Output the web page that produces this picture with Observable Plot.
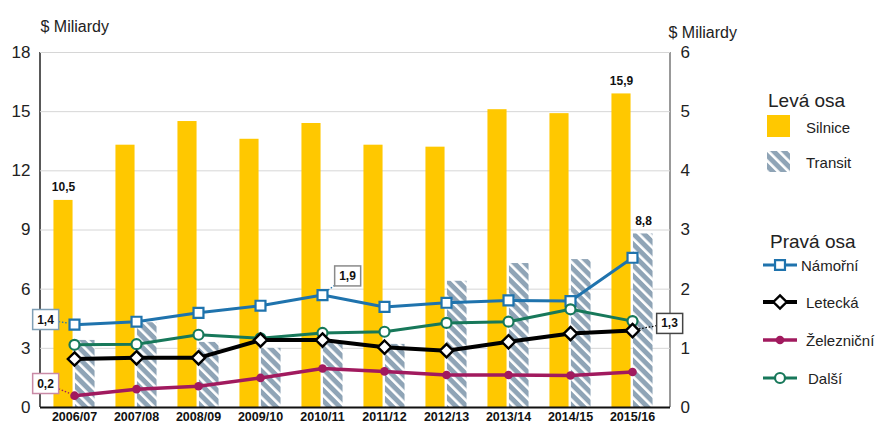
<!DOCTYPE html>
<html><head><meta charset="utf-8">
<script src="https://cdn.jsdelivr.net/npm/d3@7"></script>
<script src="https://cdn.jsdelivr.net/npm/@observablehq/plot@0.6"></script>
<style>
body{margin:0;background:#fff;font-family:"Liberation Sans",Arial,sans-serif;}
#wrap{position:relative;width:880px;height:424px;overflow:hidden;background:#fff;}
#legend{position:absolute;left:0;top:0;}
</style></head><body><div id="wrap"></div>
<script>
// ---------- data ----------
const years = ["2006/07","2007/08","2008/09","2009/10","2010/11","2011/12","2012/13","2013/14","2014/15","2015/16"];
// left axis ($ billions)
const silnice = [10.5, 13.3, 14.5, 13.6, 14.4, 13.3, 13.2, 15.1, 14.9, 15.9];
const transit = [3.4, 4.3, 3.3, 3.0, 3.25, 3.2, 6.4, 7.3, 7.5, 8.8];
// right axis ($ billions)
const namorni = [1.4, 1.45, 1.6, 1.72, 1.9, 1.7, 1.77, 1.81, 1.8, 2.53];
const letecka = [0.82, 0.84, 0.84, 1.14, 1.14, 1.02, 0.96, 1.11, 1.25, 1.3];
const zeleznicni = [0.2, 0.31, 0.36, 0.5, 0.66, 0.61, 0.55, 0.55, 0.54, 0.6];
const dalsi = [1.06, 1.07, 1.23, 1.17, 1.26, 1.28, 1.43, 1.45, 1.66, 1.46];
const leftTicks = [0, 3, 6, 9, 12, 15, 18];
const rightTicks = [0, 1, 2, 3, 4, 5, 6];
const axisTitle = "$ Miliardy";
const legendLeftTitle = "Levá osa";
const legendRightTitle = "Pravá osa";
const barNames = ["Silnice", "Transit"];
const lineNames = ["Námořní", "Letecká", "Železniční", "Další"];
// callouts: [series, year]
const callouts = [["Námořní","2006/07"],["Železniční","2006/07"],["Námořní","2010/11"],["Letecká","2015/16"]];
const barLabelKeys = [["Silnice","2006/07"],["Silnice","2015/16"],["Transit","2015/16"]];

// ---------- derived ----------
const RATIO = leftTicks[leftTicks.length-1] / rightTicks[rightTicks.length-1];
const lineValues = {"Námořní": namorni, "Letecká": letecka, "Železniční": zeleznicni, "Další": dalsi};
const barValues = {"Silnice": silnice, "Transit": transit};
const barRows = years.map((year, i) => ({year, silnice: silnice[i], transit: transit[i]}));
const fmt = v => v.toFixed(1).replace(".", ",");

// ---------- styles ----------
const YELLOW = "#ffc800";
const HATCH_BG = "#8fa4b6";
const lineStyle = {
  "Námořní":   {color: "#1f73ad", symbol: "square",   r: 5.6, fill: "white", sw: 3,   dotSw: 2.2},
  "Železniční":{color: "#a11a5e", symbol: "circle",   r: 4.3, fill: "#a11a5e", sw: 3.5, dotSw: 0},
  "Další":     {color: "#17785a", symbol: "circle",   r: 5,   fill: "white", sw: 3,   dotSw: 2.2},
  "Letecká":   {color: "#000000", symbol: "diamond2", r: 6,   fill: "white", sw: 4,   dotSw: 2.4}
};
const drawOrder = ["Námořní", "Železniční", "Další", "Letecká"];
const calloutStyle = {
  "Námořní|2006/07":   {dx: -29, dy: -5,  border: "#7f9fb5"},
  "Železniční|2006/07":{dx: -29, dy: -12, border: "#c98aa6"},
  "Námořní|2010/11":   {dx: 25,  dy: -19, border: "#8a8a8a"},
  "Letecká|2015/16":   {dx: 37,  dy: -7,  border: "#444444"}
};
const barLabelStyle = {"Silnice": {dx: -11, dy: -9}, "Transit": {dx: 11, dy: -9}};

const W = 880, H = 424, mL = 40, mR = 210, mT = 52, mB = 17;
const xRange = [38.5, 667.5];
const bw = (xRange[1] - xRange[0]) / years.length;

const marks = [
  Plot.gridY(leftTicks, {stroke: "#d6d6d6", strokeOpacity: 1, strokeWidth: 1}),
  Plot.barY(barRows, {x: "year", y: "silnice", fill: YELLOW, insetLeft: bw/2 - 21, insetRight: bw/2 + 1}),
  Plot.barY(barRows, {x: "year", y: "transit", fill: "url(#hatch)", insetLeft: bw/2 + 0.5, insetRight: bw/2 - 21}),
  Plot.ruleY([0], {stroke: "#111", strokeWidth: 2})
];
for (const name of drawOrder) {
  const s = lineStyle[name];
  const rows = years.map((year, i) => ({year, v: lineValues[name][i] * RATIO}));
  marks.push(Plot.line(rows, {x: "year", y: "v", stroke: s.color, strokeWidth: s.sw, curve: "linear"}));
  marks.push(Plot.dot(rows, {x: "year", y: "v", symbol: s.symbol, r: s.r, fill: s.fill,
    stroke: s.color, strokeWidth: s.dotSw}));
}
for (const [name, year] of barLabelKeys) {
  const i = years.indexOf(year);
  const st = barLabelStyle[name];
  marks.push(Plot.text([{year, v: barValues[name][i]}], {x: "year", y: "v", text: d => fmt(d.v),
    dx: st.dx, dy: st.dy, lineAnchor: "bottom", fontWeight: "bold", fontSize: 12, fill: "#111"}));
}
for (const [name, year] of callouts) {
  const i = years.indexOf(year);
  const st = calloutStyle[name + "|" + year];
  marks.push(Plot.text([{year, v: lineValues[name][i] * RATIO, raw: lineValues[name][i]}], {
    x: "year", y: "v", text: d => fmt(d.raw), dx: st.dx, dy: st.dy,
    fontWeight: "bold", fontSize: 12, fill: "#111", ariaLabel: () => "callout"}));
}
marks.push(
  Plot.axisX({tickSize: 0, tickPadding: 4.5, fontWeight: "bold", fontSize: 12.5, fill: "#111", label: null}),
  Plot.axisY(leftTicks, {anchor: "left", tickSize: 0, tickPadding: 10, fontSize: 17, fill: "#222", label: null}),
  Plot.axisY(leftTicks, {anchor: "right", tickSize: 0, tickPadding: 10, fontSize: 17, fill: "#222", label: null,
    tickFormat: d => String(rightTicks[leftTicks.indexOf(d)])}),
  Plot.text([axisTitle], {frameAnchor: "top-left", textAnchor: "start", lineAnchor: "middle", dy: -26, fontSize: 16, fill: "#222"}),
  Plot.text([axisTitle], {frameAnchor: "top-right", textAnchor: "start", lineAnchor: "middle", dx: -2, dy: -20, fontSize: 16, fill: "#222"})
);

const plot = Plot.plot({
  width: W, height: H, marginLeft: mL, marginRight: mR, marginTop: mT, marginBottom: mB,
  style: {fontFamily: "'Liberation Sans', Arial, sans-serif", background: "white", overflow: "visible"},
  x: {type: "band", domain: years, range: xRange, padding: 0},
  y: {domain: [0, 18], range: [H - mB, mT]},
  marks
});
const wrap = document.getElementById("wrap");
wrap.appendChild(plot);

const svgNS = "http://www.w3.org/2000/svg";
function hatchDefs(svgSel, id) {
  const p = svgSel.append("defs").append("pattern").attr("id", id)
    .attr("patternUnits", "userSpaceOnUse").attr("width", 7.5).attr("height", 7.5)
    .attr("patternTransform", "rotate(-45)");
  p.append("rect").attr("width", 7.5).attr("height", 7.5).attr("fill", HATCH_BG);
  p.append("rect").attr("width", 2.6).attr("height", 7.5).attr("fill", "white");
}
const svg = d3.select(plot);
hatchDefs(svg, "hatch");

const xs = plot.scale("x"), ys = plot.scale("y");
// axis lines (inserted at the back so callout boxes cover them)
const yTop = ys.apply(leftTicks[leftTicks.length-1]), yBot = ys.apply(0);
svg.insert("line", ":first-child").attr("x1", W - mR).attr("x2", W - mR).attr("y1", yTop).attr("y2", yBot).attr("stroke", "#777").attr("stroke-width", 1.5);
svg.insert("line", ":first-child").attr("x1", mL).attr("x2", mL).attr("y1", yTop).attr("y2", yBot).attr("stroke", "#222").attr("stroke-width", 1.5);

// callout boxes + leaders (computed in the text's own local coordinates)
let calloutTexts = Array.from(plot.querySelectorAll('text[aria-label="callout"]'));
if (calloutTexts.length < callouts.length) {
  const labs = callouts.map(([name, year]) => fmt(lineValues[name][years.indexOf(year)]));
  const all = Array.from(plot.querySelectorAll("text"));
  calloutTexts = labs.map(l => all.find(t => t.textContent === l));
}
const svgM = plot.getScreenCTM();
callouts.forEach(([name, year], k) => {
  const t = calloutTexts[k]; if (!t) return;
  const parent = t.parentNode;
  const tf = t.getAttribute("transform");
  const st = calloutStyle[name + "|" + year];
  const i = years.indexOf(year);
  const m = t.getScreenCTM();
  const offX = m.e - svgM.e, offY = m.f - svgM.f;
  const px = xs.apply(year) + xs.bandwidth / 2 - offX;
  const py = ys.apply(lineValues[name][i] * RATIO) - offY;
  const bb = t.getBBox();
  const padX = 4.5, padY = 3;
  const bx = bb.x - padX, by = bb.y - padY, bwid = bb.width + 2*padX, bh = bb.height + 2*padY;
  const cx = bx + bwid/2, cy = by + bh/2;
  const rect = document.createElementNS(svgNS, "rect");
  rect.setAttribute("x", bx); rect.setAttribute("y", by);
  rect.setAttribute("width", bwid); rect.setAttribute("height", bh);
  rect.setAttribute("fill", "white"); rect.setAttribute("stroke", st.border); rect.setAttribute("stroke-width", 1.5);
  if (tf) rect.setAttribute("transform", tf);
  parent.insertBefore(rect, t);
  const vx = px - cx, vy = py - cy;
  const tt = Math.min(Math.abs(vx) > 0 ? (bwid/2) / Math.abs(vx) : Infinity, Math.abs(vy) > 0 ? (bh/2) / Math.abs(vy) : Infinity);
  const sx = cx + vx * tt, sy = cy + vy * tt;
  const len = Math.hypot(px - sx, py - sy) || 1;
  const shrink = Math.max(0, (len - lineStyle[name].r - 1) / len);
  const ex = sx + (px - sx) * shrink, ey = sy + (py - sy) * shrink;
  const ln = document.createElementNS(svgNS, "line");
  ln.setAttribute("x1", sx); ln.setAttribute("y1", sy); ln.setAttribute("x2", ex); ln.setAttribute("y2", ey);
  ln.setAttribute("stroke", lineStyle[name].color); ln.setAttribute("stroke-width", 1.3);
  ln.setAttribute("stroke-dasharray", "1.5,1.8");
  if (tf) ln.setAttribute("transform", tf);
  parent.insertBefore(ln, rect);
});

// ---------- legend ----------
const lg = d3.select(wrap).append("svg").attr("id", "legend").attr("width", W).attr("height", H)
  .style("font-family", "'Liberation Sans', Arial, sans-serif");
hatchDefs(lg, "hatch2");
const txt = (x, y, s, size) => lg.append("text").attr("x", x).attr("y", y).attr("dominant-baseline", "central")
  .attr("font-size", size).attr("fill", "#222").text(s);
txt(768, 100, legendLeftTitle, 19);
lg.append("rect").attr("x", 767).attr("y", 115).attr("width", 23).attr("height", 22).attr("fill", YELLOW);
txt(806, 127, barNames[0], 15);
lg.append("rect").attr("x", 767).attr("y", 151).attr("width", 23).attr("height", 21).attr("fill", "url(#hatch2)");
txt(806, 162, barNames[1], 15);
txt(770, 241, legendRightTitle, 19);
const legRows = [["Námořní", 265, 801], ["Letecká", 302, 806], ["Železniční", 340, 806], ["Další", 378, 808]];
for (const [name, y, tx] of legRows) {
  const s = lineStyle[name];
  lg.append("line").attr("x1", 763).attr("x2", 797).attr("y1", y).attr("y2", y).attr("stroke", s.color).attr("stroke-width", s.sw);
  const sym = s.symbol === "square" ? d3.symbolSquare : s.symbol === "diamond2" ? d3.symbolDiamond2 : d3.symbolCircle;
  lg.append("path").attr("d", d3.symbol(sym, Math.PI * s.r * s.r)())
    .attr("transform", `translate(780,${y})`).attr("fill", s.fill).attr("stroke", s.color).attr("stroke-width", s.dotSw);
  txt(tx, y, name, 15);
}
</script></body></html>
